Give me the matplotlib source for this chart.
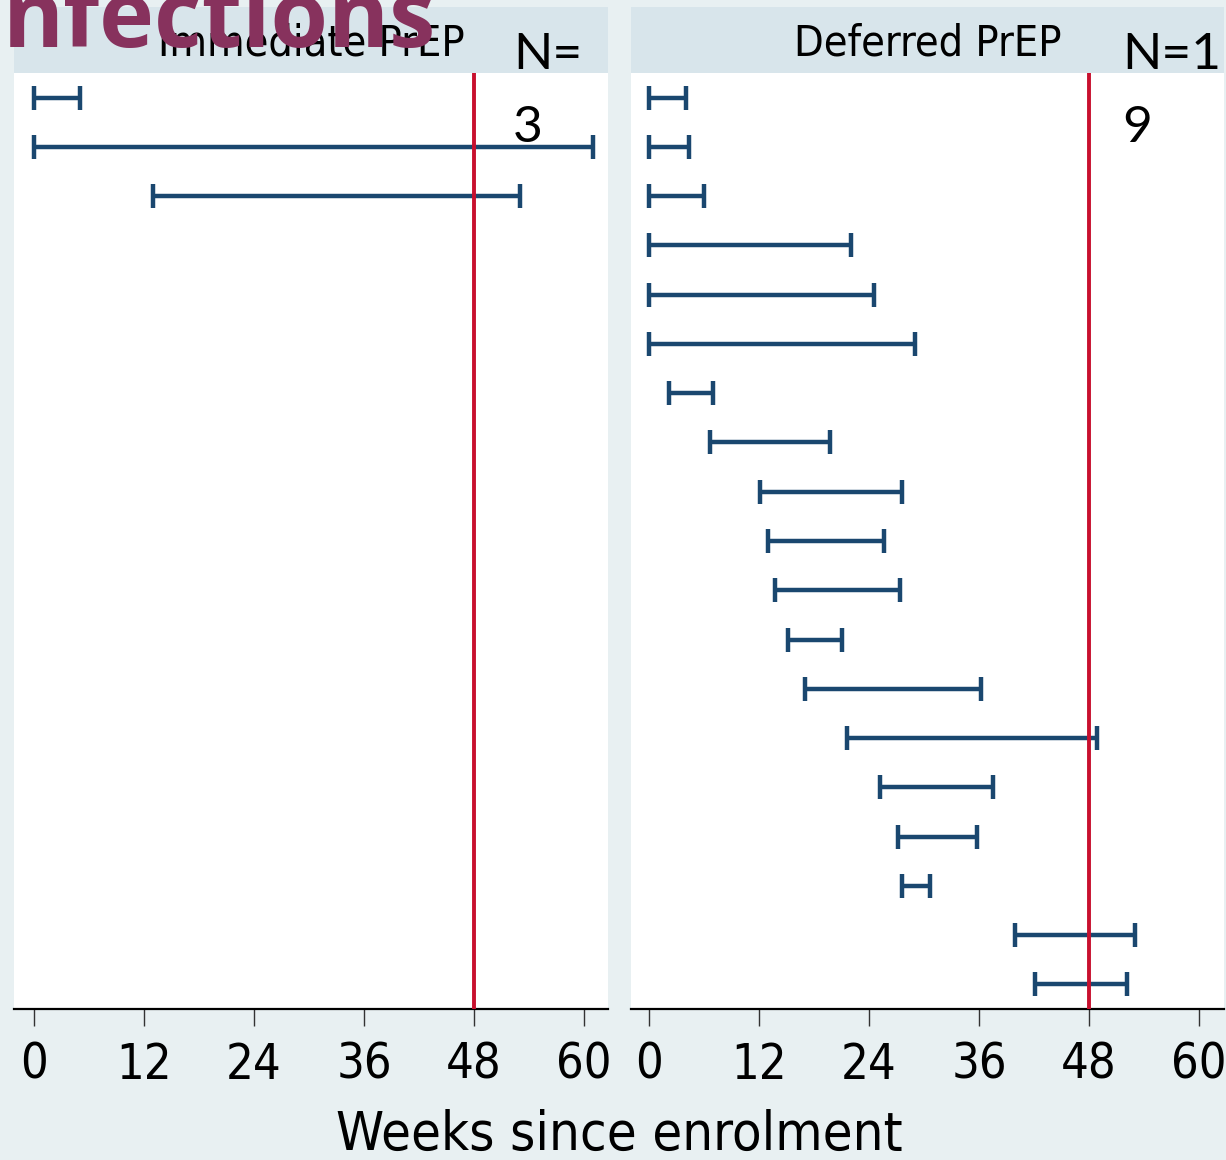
import matplotlib
matplotlib.use("Agg")
import matplotlib.pyplot as plt
from matplotlib import font_manager

# interval data (weeks since enrolment), one row per infection
imm_start = [0, 0, 13]
imm_end = [5, 61, 53]
def_start = [0, 0, 0, 0, 0, 0, 2.2, 6.7, 12.1, 13.0, 13.7, 15.2, 17.0, 21.6, 25.2, 27.2, 27.6, 39.9, 42.1]
def_end = [4, 4.4, 6, 22, 24.5, 29, 7.0, 19.7, 27.6, 25.6, 27.4, 21.1, 36.2, 48.8, 37.5, 35.8, 30.6, 53.0, 52.1]
panel_titles = ["Immediate PrEP", "Deferred PrEP"]
n_labels = [("N=", "3"), ("N=1", "9")]
xticks = [0, 12, 24, 36, 48, 60]
ref_week = 48

# look for a condensed / narrow face, otherwise fall back to Liberation Sans
cond = [f for f in font_manager.fontManager.ttflist
        if ("condensed" in str(f.stretch).lower() or "narrow" in f.name.lower()
            or "condensed" in f.name.lower()) and f.weight in (400, "normal", "regular")
        and f.style == "normal"]
if cond:
    fp = font_manager.FontProperties(fname=cond[0].fname)
    scale = 1.0
else:
    fp = font_manager.FontProperties(family="Liberation Sans")
    scale = 0.86

bg = "#e8f0f2"
strip = "#d8e5eb"
navy = "#1a476f"
red = "#c8102e"

fig = plt.figure(figsize=(12.26, 11.6), dpi=100, facecolor=bg)

W, H = 1226, 1160
panels = [(14, 608), (631, 1224)]
top, bottom, strip_top = 73, 1009, 7

data = [(imm_start, imm_end), (def_start, def_end)]
xlims = [(-2.18, 62.6), (-1.96, 62.7)]

def fprop(size):
    p = fp.copy()
    p.set_size(size * scale)
    return p

for i, (x0, x1) in enumerate(panels):
    ax = fig.add_axes([x0 / W, (H - bottom) / H, (x1 - x0) / W, (bottom - top) / H])
    ax.set_facecolor("white")
    starts, ends = data[i]
    rows = list(range(1, len(starts) + 1))
    ax.hlines(rows, starts, ends, color=navy, lw=3.2, zorder=3)
    ax.plot(starts, rows, ls="none", marker="|", ms=17, mew=3.2, color=navy, zorder=3)
    ax.plot(ends, rows, ls="none", marker="|", ms=17, mew=3.2, color=navy, zorder=3)
    ax.axvline(ref_week, color=red, lw=2.8, zorder=4)
    ax.set_ylim(19.5, 0.5)
    ax.set_xlim(*xlims[i])
    ax.set_yticks([])
    for s in ["left", "right", "top"]:
        ax.spines[s].set_visible(False)
    ax.spines["bottom"].set_linewidth(1.6)
    ax.set_xticks(xticks)
    ax.set_xticklabels([str(t) for t in xticks], fontproperties=fprop(35))
    ax.tick_params(axis="x", length=12, width=1, color="#333333", pad=11)

    sax = fig.add_axes([x0 / W, (H - top) / H, (x1 - x0) / W, (top - strip_top) / H])
    sax.set_facecolor(strip)
    sax.set_xticks([])
    sax.set_yticks([])
    for s in sax.spines.values():
        s.set_visible(False)
    sax.text(0.5, 0.45, panel_titles[i], ha="center", va="center",
             fontproperties=fprop(31), transform=sax.transAxes)

fig.text(619 / W, 1 - 1135 / H, "Weeks since enrolment", ha="center", va="center",
         fontproperties=fprop(39))

# overlaid slide text
fig.text(3 / W, 1 - 47 / H, "nfections", ha="left", va="baseline", family="Open Sans",
         weight="bold", fontsize=67, color="#87325d")
for (x, (a, b)) in zip([513, 1122], n_labels):
    fig.text(x / W, 1 - 69 / H, a, ha="left", va="baseline", family="Lato", fontsize=37)
    fig.text(x / W, 1 - 142 / H, b, ha="left", va="baseline", family="Lato", fontsize=37)

fig.savefig("out.png", dpi=100, facecolor=bg)
